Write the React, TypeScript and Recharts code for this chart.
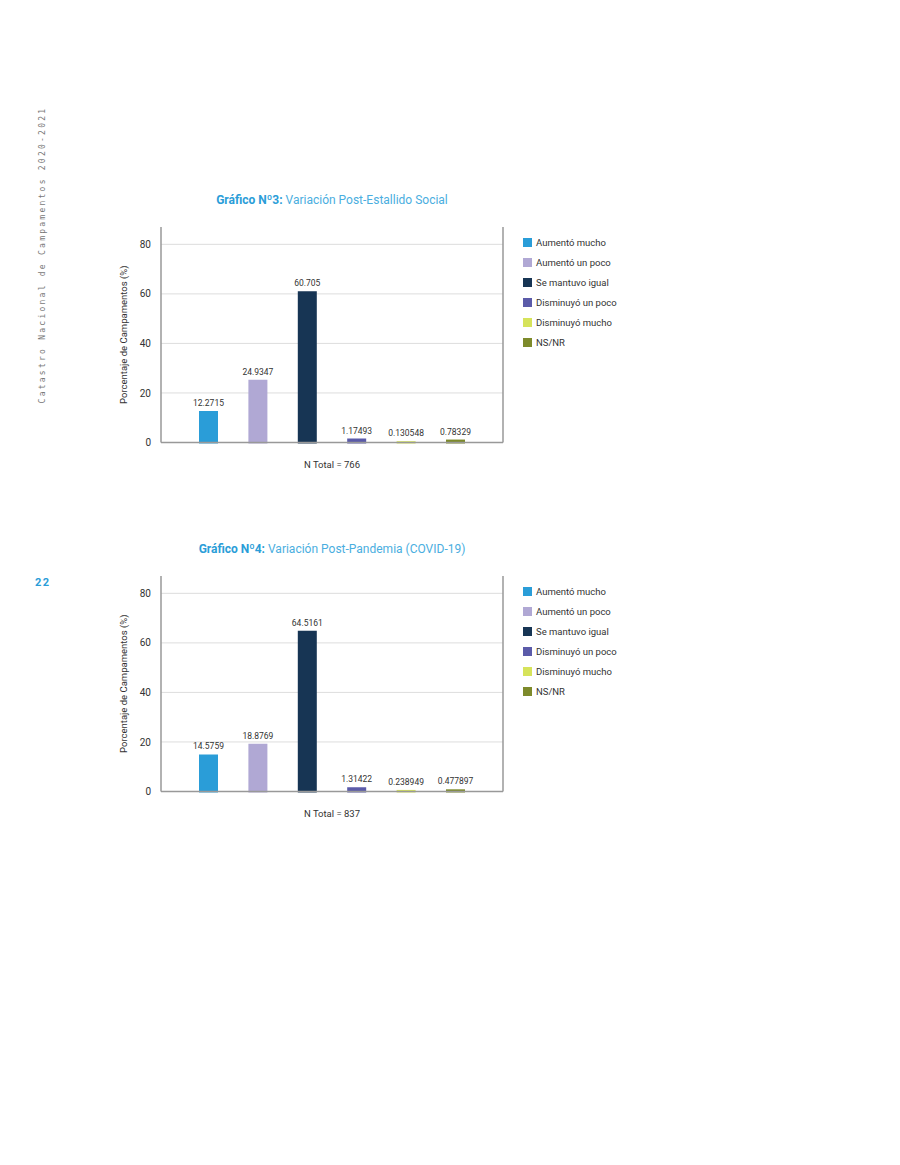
import { Bar, BarChart, CartesianGrid, LabelList, Legend, XAxis, YAxis } from "recharts";

const seriesNames = [
  "Aumentó mucho",
  "Aumentó un poco",
  "Se mantuvo igual",
  "Disminuyó un poco",
  "Disminuyó mucho",
  "NS/NR",
];
const seriesColors = ["#2a9dd8", "#b0a8d4", "#173554", "#5b5ba9", "#d6e35b", "#7d8a2b"];
const estallidoValues = [12.2715, 24.9347, 60.705, 1.17493, 0.130548, 0.78329];
const pandemiaValues = [14.5759, 18.8769, 64.5161, 1.31422, 0.238949, 0.477897];
const yTicks = [0, 20, 40, 60, 80];
const gridValues = [20, 40, 60, 80];

const FONT = "Roboto, 'Noto Sans', sans-serif";

function buildRow(values: number[]) {
  const row: Record<string, number | string> = { name: "total" };
  values.forEach((v, i) => {
    row[`s${i}`] = v;
  });
  return [row];
}

function YLabel(props: any) {
  const vb = props.viewBox || {};
  const x = vb.x + 2;
  const y = vb.y + vb.height / 2;
  return (
    <text
      x={x}
      y={y}
      transform={`rotate(-90, ${x}, ${y})`}
      textAnchor="middle"
      dominantBaseline="central"
      fontSize={9.5}
      fill="#333"
      fontFamily={FONT}
    >
      Porcentaje de Campamentos (%)
    </text>
  );
}

// keep the legend in series order (Recharts sorts it by name otherwise)
function LegendBox(props: any) {
  const items = [...(props.payload || [])].sort(
    (a: any, b: any) => seriesNames.indexOf(a.value) - seriesNames.indexOf(b.value)
  );
  return (
    <div style={{ width: 156, paddingTop: 5, paddingLeft: 19, boxSizing: "border-box", fontFamily: FONT }}>
      {items.map((item: any) => (
        <div key={item.value} style={{ height: 20, display: "flex", alignItems: "center" }}>
          <span style={{ width: 9, height: 9, background: item.color, display: "inline-block", marginRight: 4 }} />
          <span style={{ fontSize: 9.5, color: "#333" }}>{item.value}</span>
        </div>
      ))}
    </div>
  );
}

interface BlockProps {
  top: number;
  titleBold: string;
  titleRest: string;
  values: number[];
  nTotal: number;
}

function ChartBlock({ top, titleBold, titleRest, values, nTotal }: BlockProps) {
  const data = buildRow(values);
  return (
    <>
      <div
        style={{
          position: "absolute",
          left: 132,
          top: top + 13,
          width: 400,
          textAlign: "center",
          fontFamily: FONT,
          fontSize: 12,
          lineHeight: "14px",
          color: "#4aaee0",
        }}
      >
        <span style={{ fontWeight: 700, color: "#2a9dd8" }}>{titleBold}</span> {titleRest}
      </div>
      <div style={{ position: "absolute", left: 100, top, width: 560, height: 300 }}>
        <BarChart
          width={560}
          height={300}
          data={data}
          margin={{ top: 47, right: 0, bottom: 0, left: 21 }}
          barSize={17}
          barGap={32.4}
          style={{ fontFamily: FONT }}
        >
          <CartesianGrid
            yAxisId="left"
            horizontal
            vertical={false}
            horizontalValues={gridValues}
            stroke="#dddddd"
          />
          <XAxis
            dataKey="name"
            tick={false}
            tickLine={false}
            axisLine={{ stroke: "#999", strokeWidth: 1.5 }}
            height={37.5}
            label={{ value: `N Total = ${nTotal}`, position: "insideBottom", offset: 12, fill: "#333", fontSize: 9.5 }}
          />
          <YAxis
            yAxisId="left"
            domain={[0, 87]}
            ticks={yTicks}
            width={40}
            tickLine={false}
            tickMargin={4}
            axisLine={{ stroke: "#999", strokeWidth: 1.5 }}
            tick={{ fontSize: 10, fill: "#333" }}
            label={(p: any) => <YLabel {...p} />}
          />
          <YAxis
            yAxisId="right"
            orientation="right"
            domain={[0, 87]}
            ticks={yTicks}
            width={1}
            tick={false}
            tickLine={false}
            axisLine={{ stroke: "#999", strokeWidth: 1.5 }}
          />
          <Legend
            layout="vertical"
            align="right"
            verticalAlign="top"
            content={(p: any) => <LegendBox {...p} />}
          />
          {seriesNames.map((name, i) => (
            <Bar
              key={name}
              yAxisId="left"
              dataKey={`s${i}`}
              name={name}
              fill={seriesColors[i]}
              stroke={seriesColors[i]}
              strokeWidth={2}
              isAnimationActive={false}
            >
              <LabelList dataKey={`s${i}`} position="top" offset={6} fontSize={8.5} fill="#333" />
            </Bar>
          ))}
        </BarChart>
      </div>
    </>
  );
}

export default function App() {
  return (
    <div style={{ position: "absolute", left: 0, top: 0, width: 900, height: 1165, background: "#fff" }}>
      <div
        style={{
          position: "absolute",
          left: 42,
          top: 255,
          transform: "translate(-50%, -50%) rotate(-90deg)",
          whiteSpace: "nowrap",
          fontFamily: "'DejaVu Sans Mono', monospace",
          fontSize: 8,
          letterSpacing: 2.25,
          color: "#777",
        }}
      >
        Catastro Nacional de Campamentos 2020-2021
      </div>
      <div
        style={{
          position: "absolute",
          left: 35,
          top: 576,
          fontFamily: FONT,
          fontSize: 11,
          fontWeight: 700,
          letterSpacing: 1.5,
          color: "#2a9dd8",
        }}
      >
        22
      </div>
      <ChartBlock
        top={180}
        titleBold="Gráfico Nº3:"
        titleRest="Variación Post-Estallido Social"
        values={estallidoValues}
        nTotal={766}
      />
      <ChartBlock
        top={529}
        titleBold="Gráfico Nº4:"
        titleRest="Variación Post-Pandemia (COVID-19)"
        values={pandemiaValues}
        nTotal={837}
      />
    </div>
  );
}
